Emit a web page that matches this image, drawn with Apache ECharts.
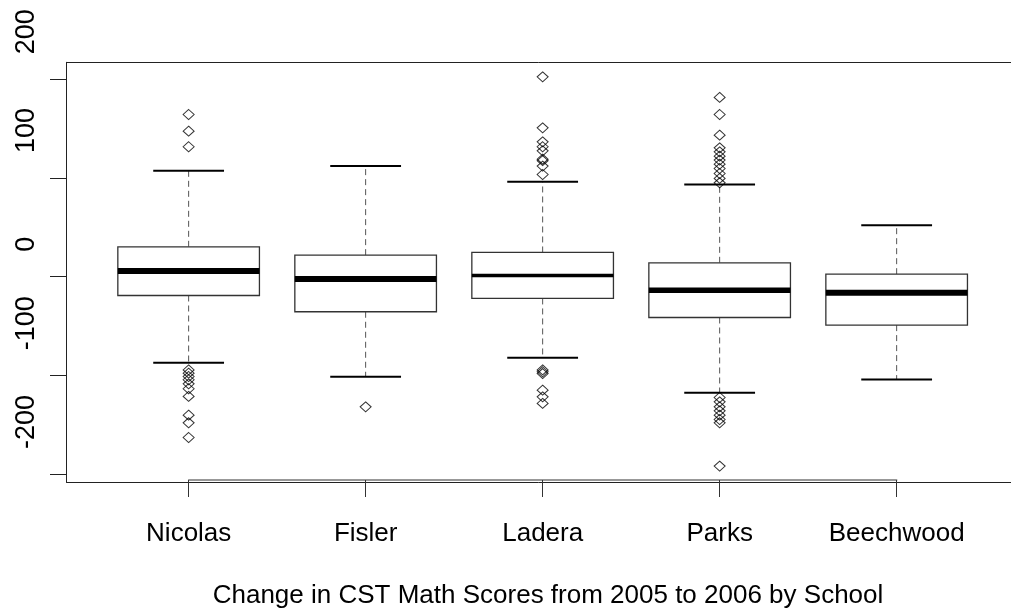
<!DOCTYPE html>
<html><head><meta charset="utf-8">
<script src="https://cdn.jsdelivr.net/npm/echarts@6/dist/echarts.min.js"></script>
<style>html,body{margin:0;padding:0;background:#fff}#c{width:1011px;height:611px}</style>
</head><body><div id="c"></div>
<script>
// ---- data ----
const schools = ['Nicolas', 'Fisler', 'Ladera', 'Parks', 'Beechwood'];
const lowerWhisker = [-87.3, -101.5, -82.3, -117.7, -104.2];
const q1 = [-19.1, -35.6, -22.1, -41.4, -49.1];
const medians = [5.6, -2.5, 1.2, -13.7, -16.4];
const q3 = [30.2, 21.8, 24.5, 14.0, 2.5];
const upperWhisker = [107.3, 112.0, 96.1, 93.4, 52.2];
const outliersNicolas = [164.3, 147.4, 131.6, -94.5, -97.8, -101.2, -104.5, -108.6, -113.6, -121.4, -140.4, -148.1, -163.0];
const outliersFisler = [-131.9];
const outliersLadera = [202.5, 150.8, 136.6, 131.6, 127.5, 119.0, 117.5, 112.0, 103.5, -94.5, -96.4, -98.2, -115.0, -121.8, -128.5];
const outliersParks = [181.6, 164.3, 143.4, 130.5, 126.5, 122.1, 118.1, 114.0, 109.6, 104.5, 99.5, 95.1, -122.5, -126.9, -131.9, -136.0, -140.4, -144.8, -148.1, -192.0];
const outliersBeechwood = [];
const yTicks = [-200, -100, 0, 100, 200];
const xTitle = 'Change in CST Math Scores from 2005 to 2006 by School';

// ---- styles ----
const FONT = 'Liberation Sans, Arial, sans-serif';
const medianWidths = [6, 6, 3.5, 5.5, 6];
const X_MIN = 0.31, X_MAX = 5.646;

const outlierLists = [outliersNicolas, outliersFisler, outliersLadera, outliersParks, outliersBeechwood];
const boxData = schools.map((s, i) => [i + 1, lowerWhisker[i], q1[i], medians[i], q3[i], upperWhisker[i]]);
const outlierData = [];
outlierLists.forEach((list, i) => list.forEach(v => outlierData.push([i + 1, v])));

const frameAxis = (pos) => ({
  type: 'value', gridIndex: 0, min: X_MIN, max: X_MAX, position: pos,
  axisLine: {show: true, onZero: false, lineStyle: {color: '#222', width: 1}},
  axisTick: {show: false}, axisLabel: {show: false}, splitLine: {show: false}
});

const chart = echarts.init(document.getElementById('c'), null, {renderer: 'canvas'});
chart.setOption({
  animation: false,
  backgroundColor: '#fff',
  title: {
    text: xTitle, left: 543, top: 578, textAlign: 'center',
    textStyle: {fontSize: 26, fontWeight: 'normal', color: '#000', fontFamily: FONT}
  },
  grid: [
    {left: 66.5, right: 0, top: 62.3, bottom: 129},
    {left: 188.7, right: 114.3, top: 470, bottom: 131}
  ],
  xAxis: [
    frameAxis('bottom'),
    frameAxis('top'),
    {type: 'category', gridIndex: 1, data: schools, boundaryGap: false,
     axisLine: {show: true, onZero: false, lineStyle: {color: '#777', width: 1.5}},
     axisTick: {show: true, length: 17, lineStyle: {color: '#333', width: 1}},
     axisLabel: {interval: 0, fontSize: 26, color: '#000', fontFamily: FONT, margin: 41},
     splitLine: {show: false}}
  ],
  yAxis: [
    {type: 'value', gridIndex: 0, min: -208.1, max: 217.2,
     axisLine: {show: true, onZero: false, lineStyle: {color: '#222', width: 1}}, splitLine: {show: false},
     axisTick: {show: true, length: 16.5, customValues: yTicks, lineStyle: {color: '#222', width: 1}},
     axisLabel: {customValues: yTicks, rotate: 90, fontSize: 27, color: '#000', fontFamily: FONT,
                 margin: 40, align: 'left', verticalAlign: 'middle', padding: [0, 0, 0, 25]}},
    {type: 'value', gridIndex: 1, show: false}
  ],
  series: [
    {
      type: 'custom', xAxisIndex: 0, yAxisIndex: 0, data: boxData, z: 2,
      renderItem: function (params, api) {
        const x = api.value(0);
        const lo = api.coord([x, api.value(1)]);
        const b1 = api.coord([x, api.value(2)]);
        const md = api.coord([x, api.value(3)]);
        const b3 = api.coord([x, api.value(4)]);
        const hi = api.coord([x, api.value(5)]);
        const bw = api.size([0.8, 0])[0];
        const sw = bw / 2;
        const cx = lo[0];
        const dash = {stroke: '#555', lineWidth: 1, lineDash: [6, 4]};
        return {
          type: 'group',
          children: [
            {type: 'line', shape: {x1: cx, y1: b3[1], x2: cx, y2: hi[1]}, style: dash},
            {type: 'line', shape: {x1: cx, y1: b1[1], x2: cx, y2: lo[1]}, style: dash},
            {type: 'line', shape: {x1: cx - sw / 2, y1: hi[1], x2: cx + sw / 2, y2: hi[1]}, style: {stroke: '#000', lineWidth: 2}},
            {type: 'line', shape: {x1: cx - sw / 2, y1: lo[1], x2: cx + sw / 2, y2: lo[1]}, style: {stroke: '#000', lineWidth: 2}},
            {type: 'rect', shape: {x: cx - bw / 2, y: b3[1], width: bw, height: b1[1] - b3[1]}, style: {fill: '#fff', stroke: '#333', lineWidth: 1.3}},
            {type: 'line', shape: {x1: cx - bw / 2, y1: md[1], x2: cx + bw / 2, y2: md[1]}, style: {stroke: '#000', lineWidth: medianWidths[params.dataIndex]}}
          ]
        };
      }
    },
    {
      type: 'scatter', xAxisIndex: 0, yAxisIndex: 0, data: outlierData, z: 3,
      symbol: 'diamond', symbolSize: [11, 10],
      itemStyle: {color: 'rgba(0,0,0,0)', borderColor: '#000', borderWidth: 1}
    }
  ]
});
</script></body></html>
